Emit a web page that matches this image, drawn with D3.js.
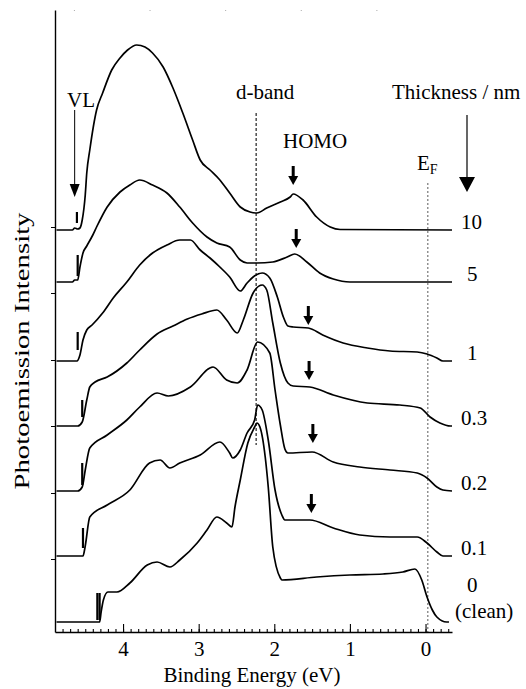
<!DOCTYPE html>
<html>
<head>
<meta charset="utf-8">
<script src="https://cdn.jsdelivr.net/npm/d3@7"></script>
<style>
  body { margin: 0; background: #fff; }
  text { font-family: "Liberation Serif", "Times New Roman", serif; font-size: 21px; fill: #000; }
</style>
</head>
<body>
<svg id="chart" width="526" height="689"></svg>
<script>
// thickness of the film for each spectrum, top to bottom
const thickness = ['10', '5', '1', '0.3', '0.2', '0.1', '0']
// vertical offset of each spectrum (arb. units)
const offsets = [402, 350, 271, 206, 141, 76, 10]

// [binding energy (eV), intensity above background]
const spec10 = [[4.88,0],[4.67,0],[4.64,2],[4.60,1],[4.57,2],[4.54,10],[4.50,35],[4.48,57],[4.44,80],[4.35,120],[4.27,137],[4.15,160],[4.04,172],[3.94,180],[3.82,185],[3.71,183],[3.61,177],[3.47,163],[3.34,142],[3.21,117],[3.08,90],[2.98,70],[2.85,60],[2.72,50],[2.59,37],[2.45,23],[2.32,18],[2.23,17],[2.10,22],[1.92,28],[1.79,33],[1.75,36],[1.62,30],[1.44,13],[1.26,3],[1.13,0.5],[-0.35,0]]
const spec5 = [[4.88,0],[4.67,0],[4.64,2],[4.60,2],[4.57,15],[4.53,29],[4.48,36],[4.40,47],[4.35,55],[4.21,75],[4.04,90],[3.91,97],[3.78,102],[3.61,97],[3.42,89],[3.25,75],[3.08,59],[2.89,45],[2.76,39],[2.59,35],[2.45,22],[2.36,19],[2.23,19],[2.02,20],[1.83,25],[1.73,28],[1.57,20],[1.40,9],[1.22,3],[1.00,0],[-0.35,0]]
const spec1 = [[4.88,0],[4.61,0],[4.57,6],[4.53,21],[4.48,31],[4.41,36],[4.27,48],[4.13,63],[3.95,79],[3.78,96],[3.61,108],[3.42,116],[3.25,121],[3.11,121],[2.98,111],[2.85,103],[2.72,94],[2.59,84],[2.45,70],[2.36,78],[2.28,84],[2.16,88],[2.06,83],[1.96,64],[1.88,44],[1.82,35],[1.75,34],[1.55,33],[1.36,26],[1.09,18],[0.77,13],[0.47,10],[0.11,9],[-0.02,7],[-0.15,3],[-0.23,0],[-0.35,0]]
const spec03 = [[4.88,0],[4.60,0],[4.54,4],[4.48,26],[4.44,39],[4.37,44],[4.21,49],[3.95,63],[3.78,76],[3.55,92],[3.34,100],[3.15,107],[2.96,112],[2.76,116],[2.63,106],[2.49,93],[2.41,106],[2.28,133],[2.16,141],[2.10,136],[2.02,103],[1.92,63],[1.82,43],[1.75,40],[1.53,39],[1.22,31],[0.77,23],[0.34,21],[0.07,18],[-0.06,9],[-0.19,3],[-0.33,0],[-0.35,0]]
const spec02 = [[4.88,0],[4.60,0],[4.54,4],[4.50,21],[4.44,43],[4.21,56],[3.95,71],[3.78,84],[3.55,98],[3.40,95],[3.11,104],[2.81,124],[2.63,111],[2.49,108],[2.36,121],[2.22,149],[2.06,138],[1.99,101],[1.92,66],[1.86,42],[1.82,38],[1.50,39],[1.22,29],[0.87,24],[0.47,21],[0.11,18],[-0.02,13],[-0.15,4],[-0.23,1],[-0.35,0]]
const spec01 = [[4.88,0],[4.53,0],[4.50,10],[4.44,39],[4.21,51],[3.91,66],[3.65,93],[3.51,96],[3.38,88],[3.25,93],[2.98,101],[2.72,114],[2.59,103],[2.55,98],[2.45,106],[2.36,123],[2.26,136],[2.22,151],[2.16,146],[2.08,116],[1.99,66],[1.90,41],[1.86,36],[1.53,36],[1.22,28],[0.87,21],[0.47,19],[0.11,19],[-0.02,13],[-0.15,4],[-0.23,0],[-0.35,0]]
const spec00 = [[4.88,0],[4.31,0],[4.29,10],[4.26,22],[4.20,30],[4.08,30],[3.91,39],[3.68,57],[3.55,60],[3.38,55],[3.25,62],[3.02,79],[2.89,92],[2.76,105],[2.63,99],[2.56,95],[2.52,115],[2.45,142],[2.35,179],[2.26,195],[2.23,199],[2.19,195],[2.12,165],[2.08,135],[2.02,75],[1.92,44],[1.90,42],[1.44,45],[1.00,47],[0.56,48],[0.30,50],[0.14,53],[0.05,42],[-0.02,25],[-0.09,12],[-0.15,5],[-0.28,0],[-0.31,0]]
const spectra = [spec10, spec5, spec1, spec03, spec02, spec01, spec00]

// vacuum-level markers: [spectrum, energy, bottom, top]
const vlBars = [[0,4.61,7,18],[1,4.60,6,27],[2,4.60,11,29],[3,4.54,9,26],[4,4.54,6,28],[5,4.53,8,28],[6,4.34,2,29],[6,4.31,2,29]]
// HOMO arrows: energy and arrow tip height above background
const homoE = [1.75, 1.71, 1.55, 1.54, 1.49, 1.51]
const homoTip = [45, 34, 36, 46, 48, 43]

const xMajor = [4, 3, 2, 1, 0]
const yTicks = [73, 139, 206, 272, 339, 405]
const topDots = [4.65, 3.65, 2.65, 1.65, 0.65]
const dBandE = 2.24
const fermiE = -0.03

const svg = d3.select('#chart')
svg.append('rect').attr('width', 526).attr('height', 689).attr('fill', '#fff')

const x = d3.scaleLinear().domain([4.9, -0.35]).range([55, 452])
const y = d3.scaleLinear().domain([0, 622]).range([632, 10])

// reference lines
svg.append('line')
    .attr('x1', x(dBandE)).attr('x2', x(dBandE))
    .attr('y1', 113).attr('y2', 445)
    .attr('stroke', '#222').attr('stroke-width', 1.2).attr('stroke-dasharray', '3,2')

svg.append('line')
    .attr('x1', x(fermiE)).attr('x2', x(fermiE))
    .attr('y1', 183).attr('y2', 632)
    .attr('stroke', '#777').attr('stroke-width', 1.2).attr('stroke-dasharray', '2,2')

// spectra
const line = d3.line()
    .curve(d3.curveMonotoneX)

spectra.forEach((spec, i) => {
    line.x(d => x(d[0])).y(d => y(d[1] + offsets[i]))
    svg.append('path')
        .attr('d', line(spec))
        .attr('fill', 'none')
        .attr('stroke', '#000')
        .attr('stroke-width', 1.7)
        .attr('stroke-linejoin', 'round')
})

// VL bars
vlBars.forEach(b => {
    svg.append('line')
        .attr('x1', x(b[1])).attr('x2', x(b[1]))
        .attr('y1', y(offsets[b[0]] + b[2])).attr('y2', y(offsets[b[0]] + b[3]))
        .attr('stroke', '#000').attr('stroke-width', 2.2)
})

// HOMO arrows
homoE.forEach((e, i) => {
    const px = x(e), tip = y(offsets[i] + homoTip[i])
    svg.append('line')
        .attr('x1', px).attr('x2', px)
        .attr('y1', tip - 19).attr('y2', tip - 7)
        .attr('stroke', '#000').attr('stroke-width', 3)
    svg.append('path')
        .attr('d', `M${px - 5},${tip - 9}L${px + 5},${tip - 9}L${px},${tip}Z`)
        .attr('fill', '#000')
})

// VL arrow
const vx = x(4.64)
svg.append('line').attr('x1', vx).attr('x2', vx).attr('y1', 110).attr('y2', 186)
    .attr('stroke', '#000').attr('stroke-width', 1)
svg.append('path').attr('d', `M${vx - 5},${184}L${vx + 5},${184}L${vx},${197}Z`).attr('fill', '#000')

// thickness arrow
svg.append('line').attr('x1', 467).attr('x2', 467).attr('y1', 115).attr('y2', 180)
    .attr('stroke', '#000').attr('stroke-width', 1.2)
svg.append('path').attr('d', 'M459,177L475,177L467,192Z').attr('fill', '#000')

// axes
const gx = svg.append('g').attr('transform', 'translate(0,632)')
gx.call(d3.axisBottom(x).tickValues(xMajor).tickSize(-8).tickSizeOuter(0).tickPadding(9).tickFormat(d3.format('d')))
gx.append('g').call(d3.axisBottom(x).tickValues(d3.range(-3, 49).map(d => d / 10)).tickSize(-3).tickSizeOuter(0).tickFormat(''))
    .call(g => g.select('.domain').remove())
gx.selectAll('.domain').attr('stroke-width', 1.6)
gx.selectAll('.tick line').attr('stroke-width', 1.1)
gx.selectAll('.tick text').style('font-size', '21px').style('font-family', '"Liberation Serif", serif')

const gy = svg.append('g').attr('transform', 'translate(55,0)')
gy.call(d3.axisLeft(y).tickValues(yTicks).tickSize(4).tickSizeOuter(0).tickFormat(''))
gy.select('.domain').attr('stroke-width', 1.4)

svg.selectAll('.top-dot').data(topDots).join('rect')
    .attr('x', d => x(d)).attr('y', 10).attr('width', 1).attr('height', 1).attr('fill', '#aaa')

// labels
thickness.forEach((t, i) => {
    svg.append('text')
        .attr('x', t.length === 1 ? 467 : 461)
        .attr('y', i === 6 ? 592 : y(offsets[i]) - 1)
        .text(t)
})
svg.append('text').attr('x', 455).attr('y', 618).text('(clean)')

svg.append('text').attr('x', 67).attr('y', 107).text('VL')
svg.append('text').attr('x', 236).attr('y', 99).text('d-band')
svg.append('text').attr('x', 283).attr('y', 148).text('HOMO')
svg.append('text').attr('x', 392).attr('y', 99).text('Thickness / nm')
const ef = svg.append('text').attr('x', 417).attr('y', 170)
ef.append('tspan').text('E')
ef.append('tspan').attr('dy', 4).style('font-size', '14px').text('F')

svg.append('text').attr('x', 252).attr('y', 682).attr('text-anchor', 'middle').text('Binding Energy (eV)')
svg.append('text')
    .attr('transform', 'translate(29,351) rotate(-90)')
    .attr('text-anchor', 'middle')
    .attr('textLength', 277).attr('lengthAdjust', 'spacingAndGlyphs')
    .text('Photoemission Intensity')
</script>
</body>
</html>
